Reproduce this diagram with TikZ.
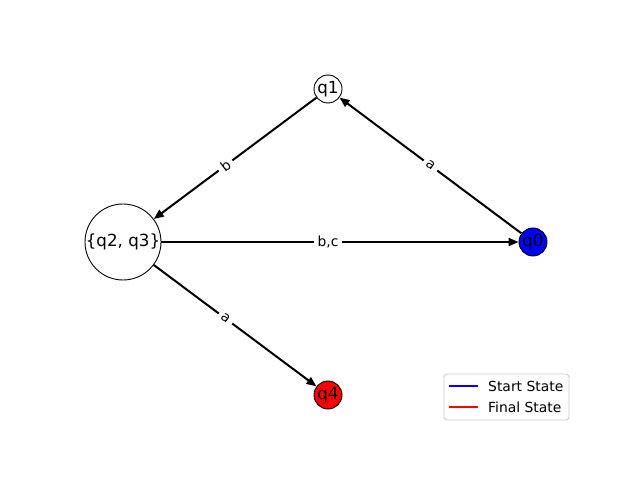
\documentclass[tikz,border=0pt]{standalone}
\usepackage{fontspec}
\setmainfont{DejaVu Sans}
\usetikzlibrary{arrows.meta}

\begin{document}
\begin{tikzpicture}[x=1pt,y=1pt,
		statenode/.style={%
			circle,
			draw=black,
			line width=0.9pt,
			inner sep=0pt,
			minimum size=28pt,
			font=\fontsize{16.7}{18}\selectfont
		},
		trans/.style={line width=2pt,-{Triangle[length=10pt,width=8pt]}},
		edgelabel/.style={fill=white,inner xsep=4pt,inner ysep=2pt,sloped,font=\fontsize{13.9}{15}\selectfont},
		legendtext/.style={anchor=west,inner sep=0pt,font=\fontsize{13.9}{15}\selectfont}
	]
	\useasboundingbox (0,0) rectangle (640,480);

	\node[statenode] (q1) at (328,391) {q1};
	\node[statenode,fill=blue] (q0) at (533,238) {q0};
	\node[statenode,fill=red] (q4) at (328,85) {q4};
	\node[statenode,minimum size=76pt] (q23) at (123,238) {\{q2, q3\}};

	\draw[trans] (q0) -- (q1);
	\draw[trans] (q1) -- (q23);
	\draw[trans] (q23) -- (q0);
	\draw[trans] (q23) -- (q4);

	% labels sit halfway between the centres
	\path (q0.center) -- node[edgelabel] {a} (q1.center);
	\path (q1.center) -- node[edgelabel] {b} (q23.center);
	\path (q23.center) -- node[edgelabel] {b,c} (q0.center);
	\path (q23.center) -- node[edgelabel] {a} (q4.center);

	% legend
	\draw[draw=black!20,line width=0.9pt,rounded corners=3pt,fill=white] (444,60) rectangle (569,106);
	\draw[blue,line width=2pt] (449,94) -- (478,94);
	\draw[red,line width=2pt] (449,73) -- (478,73);
	\node[legendtext] (startlbl) at (488,94) {Start State};
	\node[legendtext] (finallbl) at (488,73) {Final State};
\end{tikzpicture}
\end{document}
